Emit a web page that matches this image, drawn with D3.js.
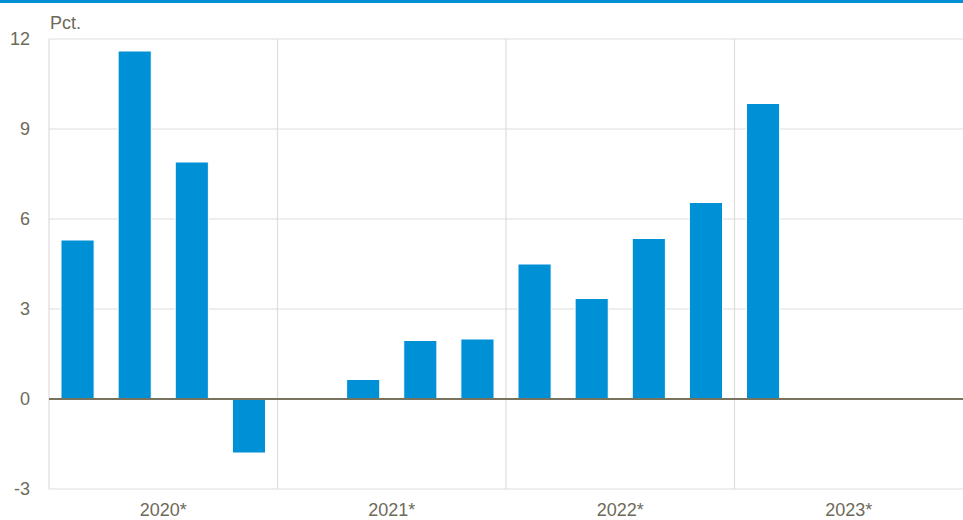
<!DOCTYPE html>
<html>
<head>
<meta charset="utf-8">
<script src="https://cdn.jsdelivr.net/npm/d3@7"></script>
<style>
  body { margin: 0; background: #fff; }
  svg { display: block; font-family: "Liberation Sans", Arial, sans-serif; }
</style>
</head>
<body>
<div id="chart"></div>
<script>
const years = ['2020*', '2021*', '2022*', '2023*'];
const quarters = ['K1', 'K2', 'K3', 'K4'];
// one value per quarter, null where no bar is drawn
const values = [
  5.3, 11.6, 7.9, -1.8,
  null, 0.65, 1.95, 2.0,
  4.5, 3.35, 5.35, 6.55,
  9.85, null, null, null
];
const yTicks = [-3, 0, 3, 6, 9, 12];

const width = 963;
const height = 520;
const margin = { top: 39, right: 0, bottom: 31, left: 49 };
const fontSize = 18;
const textColor = '#6d6a5a';

const periods = years.flatMap((y) => quarters.map((q) => y + q));

const svg = d3.select('#chart')
  .append('svg')
  .attr('width', width)
  .attr('height', height);

const x = d3.scaleBand()
  .domain(periods)
  .range([margin.left, width - margin.right])
  .paddingInner(0.42)
  .paddingOuter(0.21);

const xYear = d3.scaleBand()
  .domain(years)
  .range([margin.left, width - margin.right]);

const y = d3.scaleLinear()
  .domain([-3, 12])
  .range([height - margin.bottom, margin.top]);

// top rule
svg.append('rect')
  .attr('x', 0).attr('y', 0)
  .attr('width', width).attr('height', 3)
  .attr('fill', '#0090d6');

// horizontal gridlines
svg.append('g')
  .selectAll('line')
  .data(yTicks)
  .join('line')
  .attr('x1', margin.left)
  .attr('x2', width - margin.right)
  .attr('y1', (d) => y(d))
  .attr('y2', (d) => y(d))
  .attr('stroke', '#dddddd')
  .attr('stroke-width', 1.2);

// year separators + left edge
svg.append('g')
  .selectAll('line')
  .data(years)
  .join('line')
  .attr('x1', (d) => xYear(d))
  .attr('x2', (d) => xYear(d))
  .attr('y1', y(12))
  .attr('y2', y(-3))
  .attr('stroke', '#dddddd')
  .attr('stroke-width', 1.2);

// bars
svg.append('g')
  .selectAll('rect')
  .data(periods.map((p, i) => ({ p, v: values[i] })).filter((d) => d.v !== null))
  .join('rect')
  .attr('x', (d) => x(d.p))
  .attr('width', x.bandwidth())
  .attr('y', (d) => y(Math.max(0, d.v)))
  .attr('height', (d) => Math.abs(y(d.v) - y(0)))
  .attr('fill', '#0090d6')
  .attr('stroke', '#ffffff')
  .attr('stroke-width', 1);

// zero line
svg.append('line')
  .attr('x1', margin.left)
  .attr('x2', width - margin.right)
  .attr('y1', y(0))
  .attr('y2', y(0))
  .attr('stroke', '#77735f')
  .attr('stroke-width', 2);

// y tick labels
const yAxis = d3.axisLeft(y)
  .tickValues(yTicks)
  .tickFormat((d) => String(d))
  .tickSize(0)
  .tickPadding(0);
const gy = svg.append('g')
  .attr('transform', `translate(30,0)`)
  .call(yAxis);
gy.select('.domain').remove();
gy.selectAll('text')
  .attr('fill', textColor)
  .attr('font-size', fontSize)
  .attr('font-family', null);

// x labels per year
const xAxis = d3.axisBottom(xYear).tickSize(0).tickPadding(0);
const gx = svg.append('g')
  .attr('transform', `translate(0,${height - 10})`)
  .call(xAxis);
gx.select('.domain').remove();
gx.selectAll('text')
  .attr('fill', textColor)
  .attr('font-size', fontSize)
  .attr('dy', '0.32em')
  .attr('font-family', null);

// unit label
svg.append('text')
  .attr('x', 50)
  .attr('y', 29)
  .attr('fill', textColor)
  .attr('font-size', fontSize)
  .text('Pct.');
</script>
</body>
</html>
